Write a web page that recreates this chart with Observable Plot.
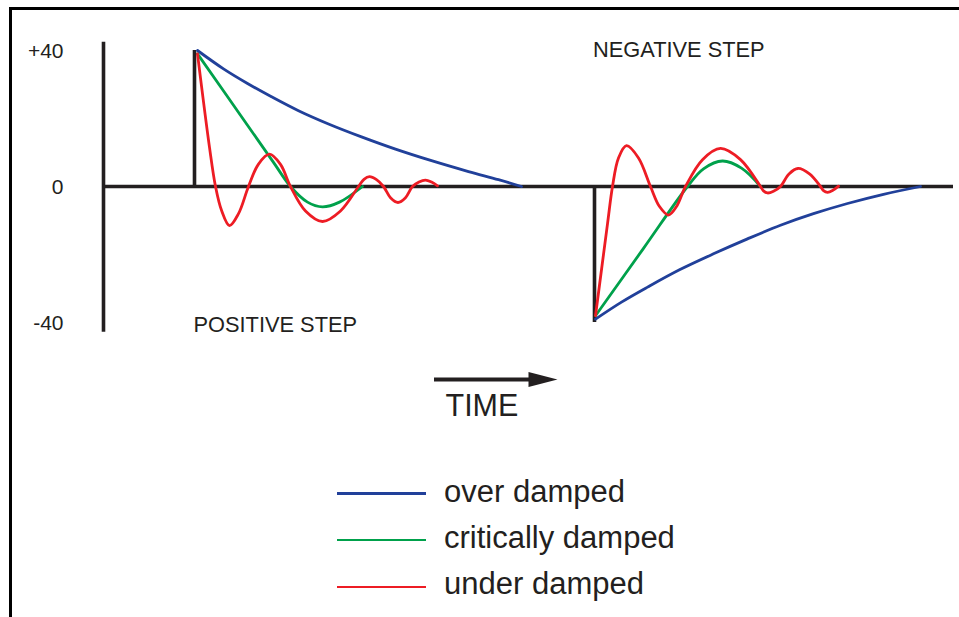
<!DOCTYPE html>
<html>
<head>
<meta charset="utf-8">
<script src="https://cdn.jsdelivr.net/npm/d3@7"></script>
<script src="https://cdn.jsdelivr.net/npm/@observablehq/plot@0.6"></script>
<style>
  html, body { margin: 0; padding: 0; background: #fff; }
  body { width: 959px; height: 617px; position: relative; overflow: hidden; font-family: "Liberation Sans", Arial, sans-serif; }
  #frame { position: absolute; left: 9px; top: 7px; width: 950px; height: 610px; border-top: 3px solid #000; border-left: 3px solid #000; }
  #chart { position: absolute; left: 0; top: 0; }
  .sw { position: absolute; left: 337px; width: 89px; height: 2.6px; }
  .lab { position: absolute; left: 444px; font-size: 31px; line-height: 31px; color: #231f20; white-space: nowrap; }
</style>
</head>
<body>
<div id="frame"></div>
<div id="chart"></div>
<div id="legend"></div>
<script>
// ---- data (time in arbitrary units, response in %) ----
const yTicks = [40, 0, -40];
const yTickLabels = ["+40", "0", "-40"];

const seriesNames = ["over damped", "critically damped", "under damped"];
const seriesColors = ["#21409a", "#00a14b", "#ed1c24"];

const stepTimes = [9.1, 49.1];
const stepLevels = [40, -40];

// positive step
const overPosT  = [9.4, 12.0, 14.4, 16.8, 19.5, 22.5, 25.8, 29.2, 32.8, 36.5, 39.5, 41.8];
const overPosV  = [40, 34.6, 30.3, 26.4, 22.3, 18.4, 14.6, 11.0, 7.6, 4.4, 2.0, 0];
const critPosT  = [9.4, 14.05, 17.0, 18.7, 20.4, 21.9, 23.6, 25.9];
const critPosV  = [39, 19.5, 7.1, 0, -4.6, -6.0, -4.6, 0];
const underPosT = [9.4, 10.6, 11.2, 11.8, 12.6, 13.5, 14.5, 15.5, 16.6, 17.7, 18.7, 20.2, 21.9, 23.7, 25.5,
                   26.05, 26.6, 27.3, 28.0, 28.7, 29.45, 30.2, 30.9, 31.55, 32.2, 32.8, 33.4];
const underPosV = [39, 11.5, 0, -7.0, -11.5, -8.0, 0, 6.6, 9.5, 6.5, 0, -7.2, -10.3, -7.2, 0,
                   2.1, 2.9, 2.0, 0, -3.3, -4.7, -3.3, 0, 1.35, 1.9, 1.3, 0.2];

// negative step
const overNegT  = [49.2, 51.8, 54.4, 57.6, 61.0, 64.4, 67.7, 71.0, 74.4, 78.0, 81.7];
const overNegV  = [-39, -34.0, -29.6, -24.5, -19.8, -15.4, -11.4, -8.0, -5.0, -2.3, 0];
const critNegT  = [49.2, 54.0, 58.4, 60.0, 61.9, 63.8, 65.7];
const critNegV  = [-38, -18.2, 0, 5.2, 7.5, 5.4, 0];
const underNegT = [49.2, 50.4, 50.9, 51.5, 52.3, 53.5, 54.7, 55.6, 56.5, 57.3, 58.2, 59.9, 61.7, 63.7, 65.7,
                   66.0, 66.4, 67.0, 67.7, 68.55, 69.45, 70.6, 71.7, 72.0, 72.4, 72.9, 73.5];
const underNegV = [-38, -11, 0, 8.4, 12, 8.4, 0, -5.9, -8.4, -5.9, 0, 7.9, 11.2, 7.9, 0,
                   -1.3, -1.9, -1.4, 0, 3.7, 5.3, 3.7, 0, -1.2, -1.7, -1.2, 0.1];

const annotations = ["POSITIVE STEP", "NEGATIVE STEP"];
const annotX = [9.0, 48.95];
const annotY = [-40.7, 40.2];
const timeLabel = "TIME";

// ---- build tables ----
const zip = (ts, vs, s, seg) => ts.map((t, i) => ({t, v: vs[i], s, seg}));
const curves = [
  ...zip(overPosT, overPosV, 0, "p0"), ...zip(critPosT, critPosV, 1, "p1"), ...zip(underPosT, underPosV, 2, "p2"),
  ...zip(overNegT, overNegV, 0, "n0"), ...zip(critNegT, critNegV, 1, "n1"), ...zip(underNegT, underNegV, 2, "n2")
];
const segs = ["p0", "p1", "p2", "n0", "n1", "n2"];
const ink = "#231f20";
const font = "Liberation Sans, Arial, sans-serif";

// custom elongated arrowhead (tip at origin, pointing right)
const arrowHead = { draw(ctx) { ctx.moveTo(0, 0); ctx.lineTo(-29, -7.5); ctx.lineTo(-29, 7.5); ctx.closePath(); } };

const marks = [
  // axes
  Plot.ruleX([0], {y1: -42.9, y2: 42.4, stroke: ink, strokeWidth: 3.6}),
  Plot.ruleY([0], {x1: 0, x2: 85, stroke: ink, strokeWidth: 3.6}),
  // step edges
  Plot.ruleX(stepTimes, {y1: 0, y2: (d, i) => stepLevels[i], stroke: ink, strokeWidth: 3.6}),
  // tick labels
  Plot.text(yTicks, {x: 0, y: d => d, text: (d, i) => yTickLabels[i], textAnchor: "end", dx: -40, dy: 1, fontSize: 21, fontFamily: font, fill: ink}),
  // curves
  ...segs.map(sg => Plot.line(curves.filter(d => d.seg === sg), {
    x: "t", y: "v", stroke: d => seriesColors[d.s], strokeWidth: 2.8,
    curve: "catmull-rom"
  })),
  // annotations
  Plot.text(annotations, {x: (d, i) => annotX[i], y: (d, i) => annotY[i], text: d => d, textAnchor: "start", fontSize: 21.8, fontFamily: font, fill: ink}),
  // time arrow
  Plot.ruleY([-56.8], {x1: 33.1, x2: 43.0, stroke: ink, strokeWidth: 4}),
  Plot.dot([-56.8], {x: 45.4, y: d => d, symbol: arrowHead, fill: ink, stroke: null}),
  Plot.text([timeLabel], {x: 34.2, y: -64.6, text: d => d, textAnchor: "start", fontSize: 30.5, fontFamily: font, fill: ink})
];

const chart = Plot.plot({
  width: 959,
  height: 450,
  style: {background: "transparent", overflow: "visible"},
  x: {domain: [0, 85], range: [103, 953], axis: null},
  y: {domain: [-40, 40], range: [322, 50], axis: null},
  marks
});
document.getElementById("chart").appendChild(chart);

// legend (below the chart)
const legendBaselines = [502, 548, 594];
const legendLineY = [492.2, 538.8, 585.5];
const lg = document.getElementById("legend");
seriesNames.forEach((name, i) => {
  const sw = document.createElement("div");
  sw.className = "sw";
  sw.style.top = legendLineY[i] + "px";
  sw.style.background = seriesColors[i];
  lg.appendChild(sw);
  const lab = document.createElement("div");
  lab.className = "lab";
  lab.style.top = (legendBaselines[i] - 26.2) + "px";
  lab.textContent = name;
  lg.appendChild(lab);
});
</script>
</body>
</html>
